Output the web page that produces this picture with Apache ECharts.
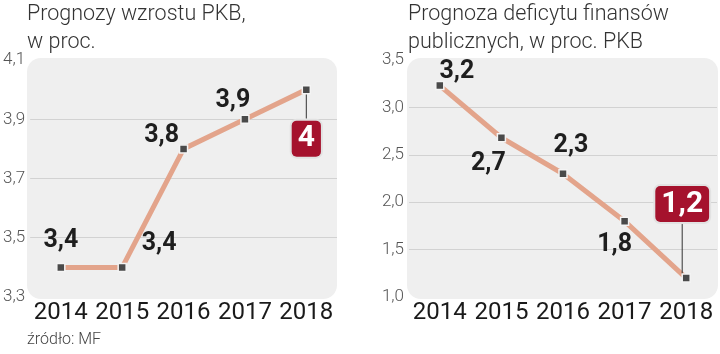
<!DOCTYPE html>
<html>
<head>
<meta charset="utf-8">
<script src="https://cdn.jsdelivr.net/npm/echarts@6/dist/echarts.min.js"></script>
<style>
html,body{margin:0;padding:0;background:#fff;}
#chart{width:720px;height:354px;}
</style>
</head>
<body>
<div id="chart"></div>
<script>
// ---- data ----
const years = ['2014', '2015', '2016', '2017', '2018'];
const gdpGrowth = [3.4, 3.4, 3.8, 3.9, 4.0];
const deficit = [3.23, 2.68, 2.3, 1.8, 1.2];
const gdpAxis = { min: 3.3, max: 4.1, interval: 0.2 };
const deficitAxis = { min: 1.0, max: 3.5, interval: 0.5 };
const titleLeft = 'Prognozy wzrostu PKB,\nw proc.';
const titleRight = 'Prognoza deficytu finansów\npublicznych, w proc. PKB';
const sourceText = 'źródło: MF';

// ---- styling / layout (not data) ----
const gdpLabelShift = [[0, -27], [37, -24], [-22, -13], [-12, -19], [0, 49]];
const defLabelShift = [[17, -14], [-13, 26], [8, -28], [-10, 24], [-4, -74]];

const fmt = v => String(+(+v).toFixed(1)).replace('.', ',');
const lineColor = '#e3a48b';
const numFont = 'Roboto, sans-serif';

const baseLabel = {
  show: true,
  position: 'inside',
  formatter: p => fmt(p.value),
  fontFamily: numFont,
  fontWeight: 'bold',
  fontSize: 25,
  color: '#1e1e1e'
};
const boxLabel = {
  backgroundColor: '#a5122d',
  borderColor: '#e2e2e2',
  borderWidth: 2,
  borderRadius: 5,
  padding: [3, 6, 1, 6],
  color: '#fff',
  fontSize: 30,
  lineHeight: 32
};

function makeData(vals) {
  return vals.map((v, i) => i === vals.length - 1
    ? { value: v, label: boxLabel, labelLine: { show: true, lineStyle: { color: '#333', width: 1 } } }
    : v);
}

function makeSeries(vals, idx, shifts) {
  return {
    type: 'line',
    xAxisIndex: idx, yAxisIndex: idx,
    data: makeData(vals),
    symbol: 'rect',
    symbolSize: 8,
    lineStyle: { color: lineColor, width: 5 },
    itemStyle: { color: '#4a4a4a', borderColor: '#f4f4f4', borderWidth: 1.5 },
    label: baseLabel,
    labelLine: { show: false, smooth: false, length2: 0, minTurnAngle: 0 },
    labelLayout: p => ({ dx: shifts[p.dataIndex][0], dy: shifts[p.dataIndex][1] }),
    z: 3,
    animation: false
  };
}

function yAx(idx, ax) {
  return {
    type: 'value', gridIndex: idx,
    min: ax.min, max: ax.max, interval: ax.interval,
    axisLine: { show: false }, axisTick: { show: false },
    axisLabel: {
      formatter: v => v.toFixed(1).replace('.', ','),
      fontFamily: 'Roboto', fontWeight: 300, fontSize: 17, color: '#555', margin: 5
    },
    splitLine: { show: true, showMinLine: false, showMaxLine: false, lineStyle: { color: '#d2d2d2', width: 1 } }
  };
}
function xAx(idx) {
  return {
    type: 'category', gridIndex: idx, data: years, boundaryGap: true,
    axisLine: { show: false }, axisTick: { show: false },
    axisLabel: { fontFamily: 'Roboto', fontWeight: 400, fontSize: 24, color: '#1a1a1a', margin: 4, interval: 0 }
  };
}

const chart = echarts.init(document.getElementById('chart'), null, { renderer: 'canvas' });
chart.setOption({
  backgroundColor: '#fff',
  animation: false,
  title: [
    { text: titleLeft, left: 27, top: 1, padding: 0, textStyle: { fontFamily: 'Roboto', fontWeight: 300, fontSize: 21.5, lineHeight: 28, color: '#333' } },
    { text: titleRight, left: 408, top: 1, padding: 0, textStyle: { fontFamily: 'Roboto', fontWeight: 300, fontSize: 21.5, lineHeight: 28, color: '#333' } },
    { text: sourceText, left: 27, top: 332, padding: 0, textStyle: { fontFamily: 'Roboto', fontWeight: 300, fontSize: 16, color: '#444' } }
  ],
  graphic: [
    { type: 'rect', left: 27, top: 58, shape: { width: 310, height: 241, r: 14 }, style: { fill: '#efefef' }, z: -10 },
    { type: 'rect', left: 407, top: 58, shape: { width: 311, height: 241, r: 14 }, style: { fill: '#efefef' }, z: -10 }
  ],
  grid: [
    { left: 28, right: 383, top: 60, bottom: 57 },
    { left: 409, right: 3, top: 60, bottom: 57 }
  ],
  xAxis: [xAx(0), xAx(1)],
  yAxis: [yAx(0, gdpAxis), yAx(1, deficitAxis)],
  series: [makeSeries(gdpGrowth, 0, gdpLabelShift), makeSeries(deficit, 1, defLabelShift)]
});
</script>
</body>
</html>
